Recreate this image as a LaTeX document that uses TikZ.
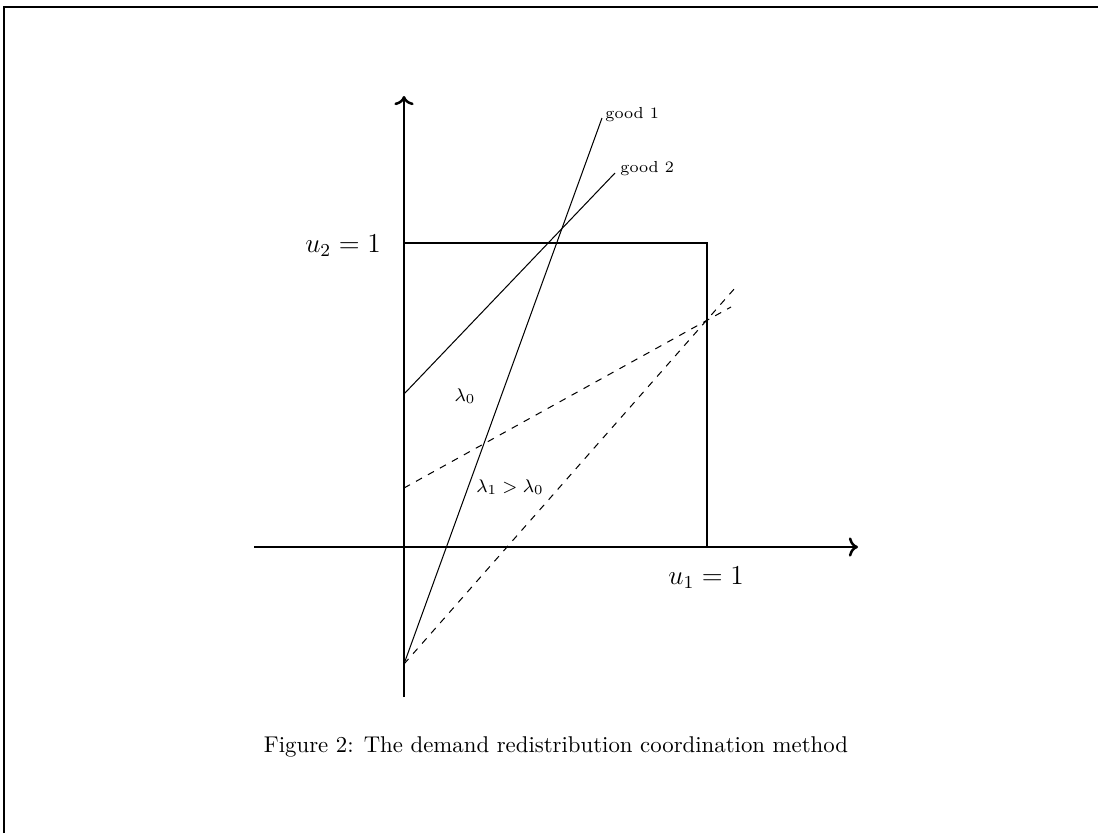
\documentclass[tikz,border=0pt]{standalone}
\usetikzlibrary{arrows.meta}
\begin{document}
\begin{tikzpicture}[x=0.4386pt,y=-0.4386pt,
  axis/.style={line width=1.1pt,->},
  boxline/.style={line width=1.1pt},
  good/.style={line width=0.45pt},
  dashline/.style={line width=0.45pt,dashed},
  lbl/.style={inner sep=0pt,font=\scriptsize},
  lam/.style={inner sep=0pt,font=\footnotesize},
  ulbl/.style={inner sep=0pt,font=\large}]
\useasboundingbox (0,0) rectangle (1098,833);
\draw[line width=0.8pt] (4,833) -- (4,7) -- (1098,7);
% axes
\coordinate (xs) at (254,547);
\coordinate (xe) at (858,547);
\coordinate (ys) at (404,697);
\coordinate (ye) at (404,96);
\draw[axis] (xs) -- (xe);
\draw[axis] (ys) -- (ye);
% box
\coordinate (b1) at (404,243);
\coordinate (b2) at (707,243);
\coordinate (b3) at (707,547);
\draw[boxline] (b1) -- (b2) -- (b3);
% good lines
\coordinate (g1s) at (404,664);
\coordinate (g1e) at (602,118);
\coordinate (g2s) at (404,394);
\coordinate (g2e) at (615,173);
\draw[good] (g1s) -- (g1e);
\draw[good] (g2s) -- (g2e);
\node[lbl,anchor=base west] (l1) at (605,118) {good 1};
\node[lbl,anchor=base west] (l2) at (620,172) {good 2};
% dashed
\coordinate (d1s) at (404,488);
\coordinate (d1e) at (731,307);
\coordinate (d2s) at (404,664);
\coordinate (d2e) at (735,288);
\draw[dashline] (d1s) -- (d1e);
\draw[dashline] (d2s) -- (d2e);
% labels
\node[lam] (lam0) at (465,396) {$\lambda_0$};
\node[lam] (lam1) at (510,487) {$\lambda_1 > \lambda_0$};
\node[ulbl,anchor=base] (u2) at (343,252) {$u_2 = 1$};
\node[ulbl,anchor=base] (u1) at (706,584) {$u_1 = 1$};
\node[inner sep=0pt,anchor=base] (cap) at (556,752) {Figure 2: The demand redistribution coordination method};
\end{tikzpicture}
\end{document}
